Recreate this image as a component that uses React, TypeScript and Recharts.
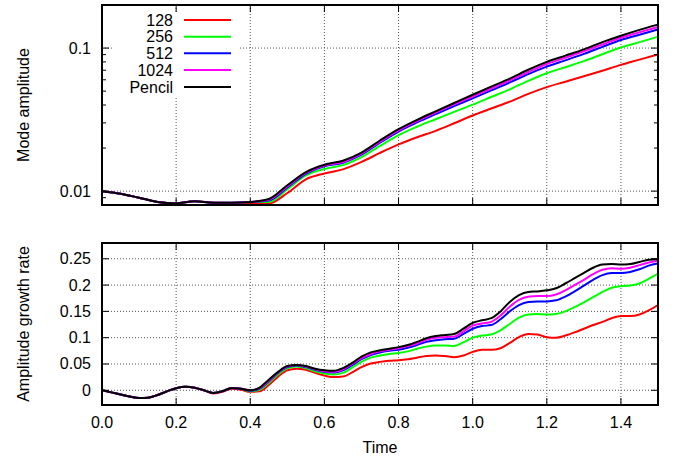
import React from 'react';
import { LineChart, Line, XAxis, YAxis, CartesianGrid, Legend } from 'recharts';

const FONT = '"Liberation Sans", Arial, Helvetica, sans-serif';

// ---------- data ----------
const timesTop = [0, 0.05, 0.1, 0.15, 0.2, 0.25, 0.3, 0.35, 0.4, 0.45, 0.5, 0.55, 0.6, 0.65, 0.7, 0.75, 0.8, 0.85, 0.9, 0.95, 1.0, 1.05, 1.1, 1.15, 1.2, 1.25, 1.3, 1.35, 1.4, 1.45, 1.5];
const amp128 = [0.0100, 0.0096, 0.0090, 0.0084, 0.0082, 0.0085, 0.0083, 0.0082, 0.0082, 0.0082, 0.0097, 0.0121, 0.0133, 0.0142, 0.0160, 0.0185, 0.0212, 0.0238, 0.0264, 0.0298, 0.0338, 0.0378, 0.0422, 0.0478, 0.0533, 0.0582, 0.0635, 0.0695, 0.0763, 0.0830, 0.0904];
const amp256 = [0.0100, 0.0096, 0.0090, 0.0084, 0.0082, 0.0085, 0.0083, 0.0083, 0.0084, 0.0084, 0.0103, 0.0129, 0.0143, 0.0152, 0.0173, 0.0207, 0.0246, 0.0282, 0.0318, 0.0358, 0.0402, 0.0455, 0.0515, 0.0590, 0.0667, 0.0735, 0.0810, 0.0905, 0.1010, 0.1100, 0.1199];
const amp512 = [0.0100, 0.0096, 0.0090, 0.0084, 0.0082, 0.0085, 0.0083, 0.0083, 0.0084, 0.0086, 0.0106, 0.0132, 0.0149, 0.0158, 0.0180, 0.0218, 0.0261, 0.0302, 0.0345, 0.0393, 0.0445, 0.0506, 0.0575, 0.0658, 0.0742, 0.0820, 0.0910, 0.1020, 0.1140, 0.1240, 0.1350];
const amp1024 = [0.0100, 0.0096, 0.0090, 0.0084, 0.0082, 0.0085, 0.0083, 0.0083, 0.0084, 0.0087, 0.0108, 0.0134, 0.0151, 0.0160, 0.0183, 0.0222, 0.0266, 0.0309, 0.0354, 0.0404, 0.0458, 0.0522, 0.0593, 0.0680, 0.0774, 0.0855, 0.0950, 0.1060, 0.1180, 0.1290, 0.1407];
const ampPencil = [0.0100, 0.0096, 0.0090, 0.0084, 0.0082, 0.0085, 0.0083, 0.0083, 0.0084, 0.0088, 0.0110, 0.0136, 0.0153, 0.0163, 0.0186, 0.0226, 0.0271, 0.0315, 0.0361, 0.0413, 0.0472, 0.0538, 0.0612, 0.0705, 0.0800, 0.0885, 0.0980, 0.1100, 0.1220, 0.1340, 0.1460];

const timesBottom = [0, 0.025, 0.05, 0.075, 0.1, 0.125, 0.15, 0.175, 0.2, 0.225, 0.25, 0.275, 0.3, 0.325, 0.35, 0.375, 0.4, 0.425, 0.45, 0.475, 0.5, 0.525, 0.55, 0.575, 0.6, 0.625, 0.65, 0.675, 0.7, 0.725, 0.75, 0.775, 0.8, 0.825, 0.85, 0.875, 0.9, 0.925, 0.95, 0.975, 1.0, 1.025, 1.05, 1.075, 1.1, 1.125, 1.15, 1.175, 1.2, 1.225, 1.25, 1.275, 1.3, 1.325, 1.35, 1.375, 1.4, 1.425, 1.45, 1.475, 1.5];
const rate128 = [0, -0.004, -0.008, -0.012, -0.0147, -0.014, -0.009, -0.002, 0.004, 0.0067, 0.005, 0.000, -0.006, -0.003, 0.003, 0.001,
  -0.003, -0.002, 0.010, 0.026, 0.038, 0.041, 0.039, 0.033, 0.028, 0.025,
  0.026, 0.034, 0.044, 0.051, 0.054, 0.056, 0.057, 0.059, 0.062, 0.065,
  0.066, 0.065, 0.063, 0.066, 0.073, 0.077, 0.077, 0.080, 0.090, 0.101,
  0.107, 0.106, 0.101, 0.100, 0.104, 0.110, 0.117, 0.124, 0.130, 0.137,
  0.141, 0.141, 0.144, 0.152, 0.162];
const rate256 = [0, -0.004, -0.008, -0.012, -0.0147, -0.014, -0.009, -0.002, 0.004, 0.0067, 0.005, 0.000, -0.005, -0.002, 0.0045, 0.003,
  -0.002, 0.001, 0.014, 0.030, 0.042, 0.045, 0.042, 0.036, 0.032, 0.030,
  0.033, 0.043, 0.054, 0.062, 0.066, 0.069, 0.071, 0.074, 0.079, 0.083,
  0.085, 0.085, 0.084, 0.091, 0.100, 0.104, 0.106, 0.114, 0.126, 0.138,
  0.144, 0.145, 0.144, 0.145, 0.150, 0.158, 0.167, 0.177, 0.187, 0.195,
  0.198, 0.199, 0.203, 0.212, 0.222];
const rate512 = [0, -0.004, -0.008, -0.012, -0.0147, -0.014, -0.009, -0.002, 0.004, 0.0067, 0.005, 0.000, -0.005, -0.002, 0.0045, 0.003,
  -0.001, 0.003, 0.017, 0.033, 0.044, 0.047, 0.044, 0.039, 0.035, 0.034,
  0.038, 0.048, 0.059, 0.067, 0.072, 0.075, 0.077, 0.081, 0.086, 0.092,
  0.095, 0.097, 0.098, 0.107, 0.117, 0.122, 0.124, 0.135, 0.150, 0.162,
  0.168, 0.169, 0.169, 0.171, 0.178, 0.188, 0.199, 0.210, 0.219, 0.223,
  0.223, 0.225, 0.230, 0.237, 0.241];
const rate1024 = [0, -0.004, -0.008, -0.012, -0.0147, -0.014, -0.009, -0.002, 0.004, 0.0067, 0.005, 0.000, -0.005, -0.002, 0.0045, 0.003,
  0.000, 0.004, 0.018, 0.034, 0.045, 0.048, 0.045, 0.040, 0.036, 0.035,
  0.040, 0.050, 0.061, 0.069, 0.074, 0.077, 0.080, 0.084, 0.089, 0.096,
  0.100, 0.101, 0.102, 0.112, 0.123, 0.127, 0.130, 0.142, 0.159, 0.172,
  0.178, 0.179, 0.179, 0.182, 0.190, 0.200, 0.210, 0.221, 0.229, 0.232,
  0.231, 0.233, 0.238, 0.243, 0.246];
const ratePencil = [0, -0.004, -0.008, -0.012, -0.0147, -0.014, -0.009, -0.002, 0.004, 0.0067, 0.005, 0.000, -0.005, -0.002, 0.0045, 0.003,
  0.000, 0.005, 0.020, 0.035, 0.046, 0.048, 0.046, 0.041, 0.038, 0.037,
  0.042, 0.052, 0.064, 0.072, 0.076, 0.079, 0.082, 0.086, 0.092, 0.099,
  0.103, 0.105, 0.107, 0.117, 0.128, 0.133, 0.137, 0.150, 0.168, 0.181,
  0.187, 0.188, 0.190, 0.194, 0.203, 0.213, 0.223, 0.233, 0.239, 0.240,
  0.239, 0.240, 0.244, 0.248, 0.249];

const seriesNames = ['128', '256', '512', '1024', 'Pencil'];
const seriesKeys = ['s128', 's256', 's512', 's1024', 'pencil'];
const seriesColors = ['#ff0000', '#00ff00', '#0000ff', '#ff00ff', '#000000'];

const xTicks = [0, 0.2, 0.4, 0.6, 0.8, 1.0, 1.2, 1.4];
const xGrid = [0.2, 0.4, 0.6, 0.8, 1.0, 1.2, 1.4];
const topMajor = [0.01, 0.1];
const topMinor = [0.009, 0.02, 0.03, 0.04, 0.05, 0.06, 0.07, 0.08, 0.09];
const bottomTicks = [0, 0.05, 0.1, 0.15, 0.2, 0.25];

const topSeries = [amp128, amp256, amp512, amp1024, ampPencil];
const bottomSeries = [rate128, rate256, rate512, rate1024, ratePencil];

const topData = timesTop.map((t, i) => {
  const row: any = { t };
  seriesKeys.forEach((k, j) => { row[k] = topSeries[j][i]; });
  return row;
});
const bottomData = timesBottom.map((t, i) => {
  const row: any = { t };
  seriesKeys.forEach((k, j) => { row[k] = bottomSeries[j][i]; });
  return row;
});

// ---------- ticks (gnuplot style, pointing inward) ----------
const MAJOR = 7;
const MINOR = 4;
const frameLine = { stroke: '#000', strokeWidth: 2, strokeLinecap: 'square' as const };

function BottomXTick(props: any) {
  const { x, y, payload, showLabel } = props;
  return (
    <g>
      <line x1={x} x2={x} y1={y} y2={y - MAJOR} stroke="#000" strokeWidth={1} />
      {showLabel ? (
        <text x={x} y={y + 23} textAnchor="middle" fontSize={16} fontFamily={FONT} fill="#000">
          {Number(payload.value).toFixed(1)}
        </text>
      ) : null}
    </g>
  );
}

function TopXTick(props: any) {
  const { x, y } = props;
  return <line x1={x} x2={x} y1={y} y2={y + MAJOR} stroke="#000" strokeWidth={1} />;
}

function LeftYTick(props: any) {
  const { x, y, payload, majors } = props;
  const isMajor = majors.indexOf(payload.value) >= 0;
  return (
    <g>
      <line x1={x} x2={x + (isMajor ? MAJOR : MINOR)} y1={y} y2={y} stroke="#000" strokeWidth={1} />
      {isMajor ? (
        <text x={x - 11} y={y + 5.5} textAnchor="end" fontSize={16} fontFamily={FONT} fill="#000">
          {String(payload.value)}
        </text>
      ) : null}
    </g>
  );
}

function RightYTick(props: any) {
  const { x, y, payload, majors } = props;
  const isMajor = majors.indexOf(payload.value) >= 0;
  return <line x1={x} x2={x - (isMajor ? MAJOR : MINOR)} y1={y} y2={y} stroke="#000" strokeWidth={1} />;
}

// legend box: page x 112..239, y 12..96
function LegendBox() {
  const rowY = [8, 24.7, 41.3, 58, 75];
  return (
    <div style={{ width: 127, height: 84, background: '#fff' }}>
      <svg width={127} height={84} style={{ display: 'block' }}>
        {seriesNames.map((n, i) => (
          <g key={n}>
            <text x={61} y={rowY[i] + 5.6} textAnchor="end" fontSize={16} fontFamily={FONT} fill="#000">{n}</text>
            <line x1={72} x2={119} y1={rowY[i]} y2={rowY[i]} stroke={seriesColors[i]} strokeWidth={2} />
          </g>
        ))}
      </svg>
    </div>
  );
}

function renderLines() {
  return seriesKeys.map((k, i) => (
    <Line
      key={k}
      xAxisId="b"
      yAxisId="l"
      dataKey={k}
      name={seriesNames[i]}
      type="monotone"
      stroke={seriesColors[i]}
      strokeWidth={2}
      dot={false}
      activeDot={false}
      isAnimationActive={false}
    />
  ));
}

export default function App() {
  return (
    <div style={{ position: 'absolute', left: 0, top: 0, width: 681, height: 459, background: '#fff', fontFamily: FONT }}>
      {/* Top panel: mode amplitude (log) */}
      <div style={{ position: 'absolute', left: 0, top: 0 }}>
        <LineChart width={681} height={210} data={topData} margin={{ top: 4, right: 22, bottom: 4, left: 0 }}>
          <CartesianGrid xAxisId="b" yAxisId="l" verticalValues={xGrid} horizontalValues={topMajor} stroke="#555" strokeDasharray="1 2" />
          <XAxis xAxisId="b" dataKey="t" type="number" domain={[0, 1.5]} allowDataOverflow ticks={xTicks} interval={0}
            orientation="bottom" height={1} tickSize={0} tickMargin={0} tickLine={false} axisLine={frameLine}
            tick={(p: any) => <BottomXTick {...p} showLabel={false} />} />
          <XAxis xAxisId="t" dataKey="t" type="number" domain={[0, 1.5]} allowDataOverflow ticks={xTicks} interval={0}
            orientation="top" height={1} tickSize={0} tickMargin={0} tickLine={false} axisLine={frameLine}
            tick={(p: any) => <TopXTick {...p} />} />
          <YAxis yAxisId="l" type="number" scale="log" domain={[0.008, 0.2]} allowDataOverflow
            ticks={[...topMinor, ...topMajor]} interval={0} width={102} tickSize={0} tickMargin={0} tickLine={false} axisLine={frameLine}
            tick={(p: any) => <LeftYTick {...p} majors={topMajor} />} />
          <YAxis yAxisId="r" orientation="right" type="number" scale="log" domain={[0.008, 0.2]} allowDataOverflow
            ticks={[...topMinor, ...topMajor]} interval={0} width={1} tickSize={0} tickMargin={0} tickLine={false} axisLine={frameLine}
            tick={(p: any) => <RightYTick {...p} majors={topMajor} />} />
          {renderLines()}
          <Legend layout="vertical" align="center" verticalAlign="middle"
            wrapperStyle={{ left: 112, top: 12, width: 127, height: 84 }}
            content={() => <LegendBox />} />
        </LineChart>
      </div>

      {/* Bottom panel: growth rate */}
      <div style={{ position: 'absolute', left: 0, top: 230 }}>
        <LineChart width={681} height={229} data={bottomData} margin={{ top: 12, right: 22, bottom: 24, left: 0 }}>
          <CartesianGrid xAxisId="b" yAxisId="l" verticalValues={xGrid} horizontalValues={bottomTicks} stroke="#555" strokeDasharray="1 2" />
          <XAxis xAxisId="b" dataKey="t" type="number" domain={[0, 1.5]} allowDataOverflow ticks={xTicks} interval={0}
            orientation="bottom" height={30} tickSize={0} tickMargin={0} tickLine={false} axisLine={frameLine}
            tick={(p: any) => <BottomXTick {...p} showLabel={true} />} />
          <XAxis xAxisId="t" dataKey="t" type="number" domain={[0, 1.5]} allowDataOverflow ticks={xTicks} interval={0}
            orientation="top" height={1} tickSize={0} tickMargin={0} tickLine={false} axisLine={frameLine}
            tick={(p: any) => <TopXTick {...p} />} />
          <YAxis yAxisId="l" type="number" domain={[-0.028, 0.28]} allowDataOverflow
            ticks={bottomTicks} interval={0} width={102} tickSize={0} tickMargin={0} tickLine={false} axisLine={frameLine}
            tick={(p: any) => <LeftYTick {...p} majors={bottomTicks} />} />
          <YAxis yAxisId="r" orientation="right" type="number" domain={[-0.028, 0.28]} allowDataOverflow
            ticks={bottomTicks} interval={0} width={1} tickSize={0} tickMargin={0} tickLine={false} axisLine={frameLine}
            tick={(p: any) => <RightYTick {...p} majors={bottomTicks} />} />
          {renderLines()}
        </LineChart>
      </div>

      {/* Axis titles */}
      <svg width={681} height={459} style={{ position: 'absolute', left: 0, top: 0, pointerEvents: 'none' }}>
        <text transform="translate(28.5,105) rotate(-90)" textAnchor="middle" fontSize={16} fontFamily={FONT} fill="#000">Mode amplitude</text>
        <text transform="translate(28.5,324) rotate(-90)" textAnchor="middle" fontSize={16} fontFamily={FONT} fill="#000">Amplitude growth rate</text>
        <text x={380} y={453} textAnchor="middle" fontSize={16} fontFamily={FONT} fill="#000">Time</text>
      </svg>
    </div>
  );
}
